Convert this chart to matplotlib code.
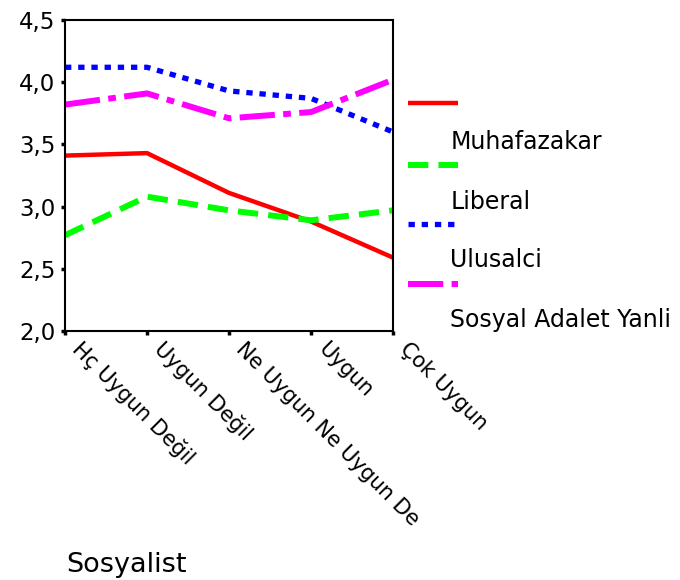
import matplotlib.pyplot as plt
from matplotlib.lines import Line2D
from matplotlib.transforms import ScaledTranslation

#the original font is wide, DejaVu Sans gets closest
plt.rcParams['font.family'] = ['DejaVu Sans']

#categories on the x axis (last one is cut off in the original too)
categories = ["Hç Uygun Değil", "Uygun Değil", "Ne Uygun Ne Uygun De",
              "Uygun", "Çok Uygun"]

#mean values
muhafazakar = [3.41, 3.43, 3.11, 2.88, 2.59]
liberal = [2.77, 3.08, 2.97, 2.89, 2.97]
ulusalci = [4.12, 4.12, 3.93, 3.87, 3.60]
sosyal_adalet = [3.82, 3.91, 3.71, 3.76, 4.02]

series_names = ["Muhafazakar", "Liberal", "Ulusalci", "Sosyal Adalet Yanli"]
y_ticks = [2.0, 2.5, 3.0, 3.5, 4.0, 4.5]
y_tick_labels = ["2,0", "2,5", "3,0", "3,5", "4,0", "4,5"]
legend_title = "Sosyalist"

#styles for each series
styles = [
    dict(color="#ff0000", lw=3.2, ls="-"),
    dict(color="#00ff00", lw=4.3, ls=(0, (3.4, 1.7))),
    dict(color="#0000ff", lw=3.8, ls=(0, (1.2, 1.3))),
    dict(color="#ff00ff", lw=4.3, ls=(0, (5.9, 1.4, 1.3, 1.4))),
]

fig = plt.figure(figsize=(6.8, 5.8), dpi=100)
ax = fig.add_axes([0.0956, 0.4293, 0.4824, 0.5362])

x = list(range(len(categories)))
for vals, st in zip([muhafazakar, liberal, ulusalci, sosyal_adalet], styles):
    ax.plot(x, vals, color=st["color"], lw=st["lw"], linestyle=st["ls"],
            solid_capstyle="butt", dash_capstyle="butt")

ax.set_xlim(0, len(categories) - 1)
ax.set_ylim(2.0, 4.5)
ax.tick_params(direction="out", length=3, width=2.5)
ax.tick_params(axis="y", pad=4)
ax.tick_params(axis="x", pad=11)
ax.set_yticks(y_ticks)
ax.set_yticklabels(y_tick_labels, fontsize=16.5)
ax.set_xticks(x)
ax.set_xticklabels(categories, fontsize=15.2, rotation=-45, ha="left",
                   va="baseline", rotation_mode="anchor")
#push the slanted labels to the right like the original
#(done after tick_params, which resets the label transforms)
off = ScaledTranslation(6 / 100, 0, fig.dpi_scale_trans)
for lab in ax.get_xticklabels():
    lab.set_transform(lab.get_transform() + off)
for sp in ax.spines.values():
    sp.set_linewidth(1.5)

#the legend in the original puts each label under its line sample
line_y = [0.822, 0.716, 0.614, 0.510]
text_y = [0.756, 0.652, 0.552, 0.448]
for name, st, ly, ty in zip(series_names, styles, line_y, text_y):
    fig.add_artist(Line2D([0.600, 0.674], [ly, ly], transform=fig.transFigure,
                          color=st["color"], lw=st["lw"], linestyle=st["ls"],
                          solid_capstyle="butt", dash_capstyle="butt"))
    fig.text(0.662, ty, name, fontsize=17, va="center", ha="left")

fig.text(0.098, 0.026, legend_title, fontsize=19.5, va="center", ha="left")

fig.savefig("out.png", dpi=100)
